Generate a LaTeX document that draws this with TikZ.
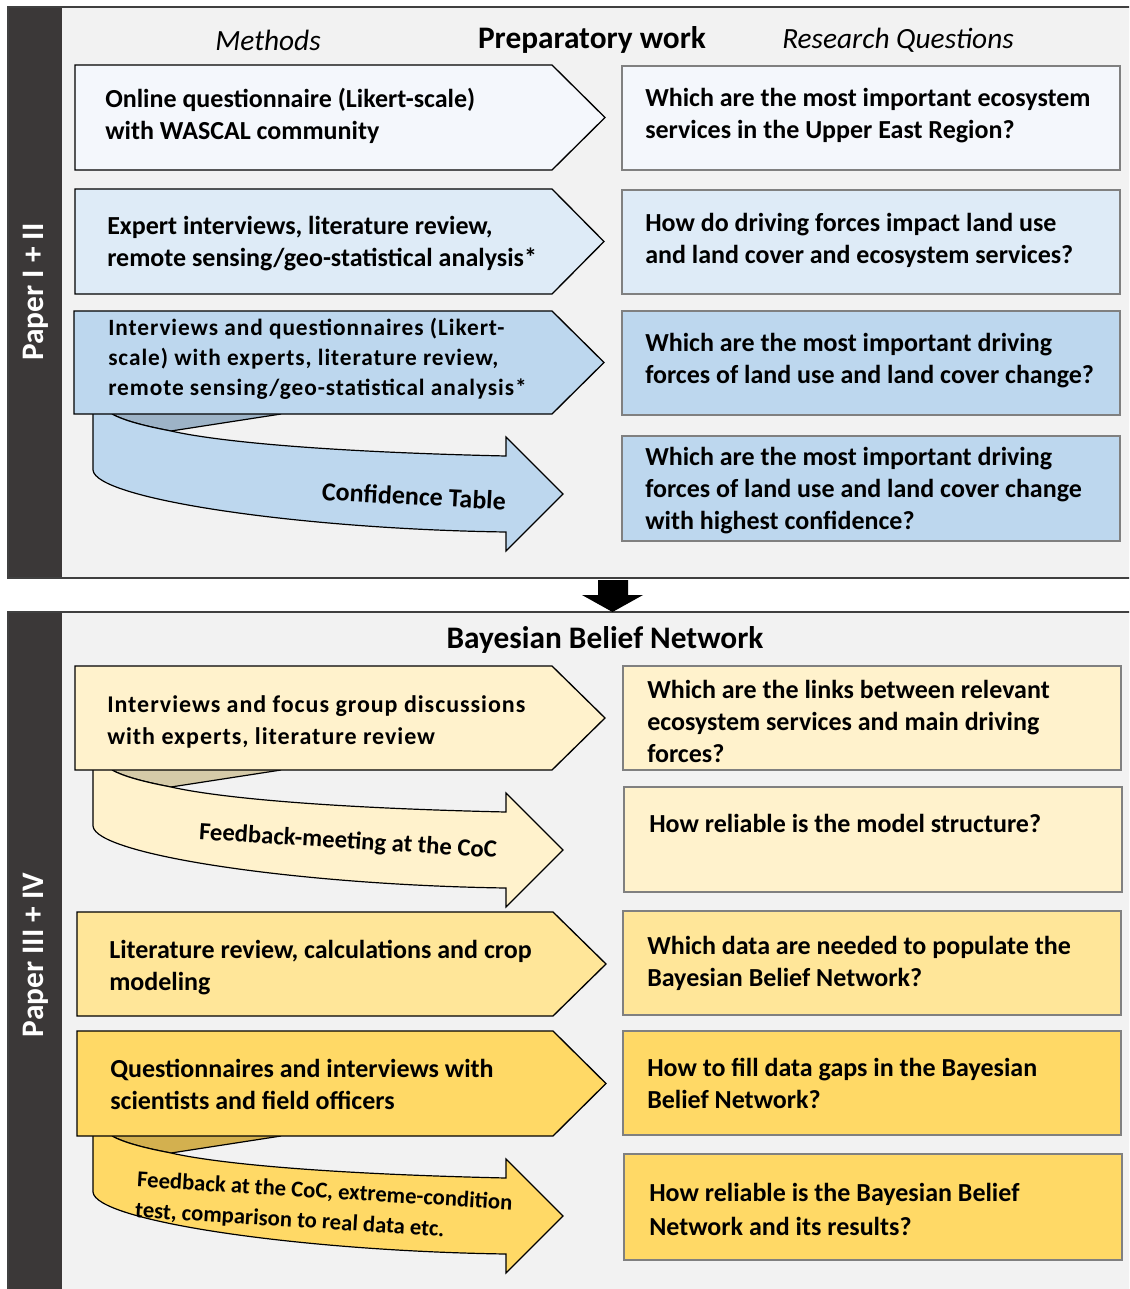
\documentclass[tikz,border=0pt]{standalone}
\usepackage{fontspec}
\setmainfont{Carlito}
\newfontfamily\spacedfont[LetterSpace=4]{Carlito}

\definecolor{panelgrey}{HTML}{F2F2F2}
\definecolor{panelline}{HTML}{404040}
\definecolor{sidegrey}{HTML}{3B3838}
\definecolor{qline}{HTML}{808080}
\definecolor{blueA}{HTML}{F4F7FC}
\definecolor{blueB}{HTML}{DEEBF7}
\definecolor{blueC}{HTML}{BDD7EE}
\definecolor{blueBack}{HTML}{9DB3C7}
\definecolor{yelA}{HTML}{FFF2CC}
\definecolor{yelABack}{HTML}{D5CAA8}
\definecolor{yelB}{HTML}{FFE699}
\definecolor{yelC}{HTML}{FFD966}
\definecolor{yelCBack}{HTML}{D3B04F}

% curved feedback ribbon hanging below a method arrow
% #1 = y of the arrow's lower edge, #2 = front colour, #3 = back colour
\newcommand{\ribbon}[3]{%
  \begin{scope}[shift={(0,#1)}]
    \filldraw[fill=#3, draw=black, line width=0.9pt, line join=round]
      (112,0) .. controls (125,7) and (145,12) .. (171,17) -- (281,0);
    \filldraw[fill=#2, draw=black, line width=0.9pt, line join=miter]
      (112,0) .. controls (125,7) and (145,12) .. (171,17)
      .. controls (220,28) and (330,38) .. (506,42)
      -- (506,23) -- (563,80) -- (506,137) -- (506,118)
      .. controls (300,115) and (95,85) .. (93,56) -- (93,0);
  \end{scope}}

\begin{document}
\begin{tikzpicture}[x=0.75pt,y=-0.75pt,
  panel/.style={fill=panelgrey, draw=panelline, line width=1.3pt},
  sidebar/.style={fill=sidegrey},
  method/.style={draw=black, line width=1pt, line join=miter},
  question/.style={draw=qline, line width=1pt},
  txt/.style={anchor=west, align=left, inner sep=0pt,
    font=\bfseries\fontsize{19.5}{24}\selectfont},
  smalltxt/.style={anchor=west, align=left, inner sep=0pt,
    font=\spacedfont\bfseries\fontsize{17.5}{22.5}\selectfont},
  head/.style={inner sep=0pt, font=\fontsize{23.5}{28}\selectfont},
  side/.style={inner sep=0pt, text=white, rotate=90,
    font=\bfseries\fontsize{23.5}{28}\selectfont}]

\clip (0,0) rectangle (1129,1289);
\fill[white] (0,0) rectangle (1129,1289);

% ---------- panels ----------
\draw[panel] (8,7) rectangle (1140,578);
\fill[sidebar] (9,8) rectangle (62,577);
\draw[panel] (8,612) rectangle (1140,1300);
\fill[sidebar] (9,613) rectangle (62,1300);

\node[side] (p12) at (36,292) {Paper I + II};
\node[side] (p34) at (36,955) {Paper III + IV};

% transition arrow between the two panels
\fill[black] (598,580) -- (628,580) -- (628,595) -- (643,595) -- (612.5,612)
  -- (582,595) -- (598,595) -- cycle;

% ---------- headings ----------
\node[head, font=\itshape\fontsize{22}{26}\selectfont] (hm) at (268,40) {Methods};
\node[head, font=\bfseries\fontsize{23.5}{28}\selectfont] (hp) at (592,40) {Preparatory work};
\node[head, font=\itshape\fontsize{22}{26}\selectfont] (hr) at (898,40) {Research Questions};
\node[head, font=\bfseries\fontsize{23.5}{28}\selectfont] (hb) at (605,640) {Bayesian Belief Network};

% ---------- feedback ribbons ----------
\ribbon{414}{blueC}{blueBack}
\ribbon{770}{yelA}{yelABack}
\ribbon{1136}{yelC}{yelCBack}

% ---------- method arrows ----------
\filldraw[method, fill=blueA] (75,65) -- (552,65) -- (605,117.5) -- (552,170) -- (75,170) -- cycle;
\filldraw[method, fill=blueB] (75,189) -- (552,189) -- (604,241.5) -- (552,294) -- (75,294) -- cycle;
\filldraw[method, fill=blueC] (74,311) -- (552,311) -- (604,362.5) -- (552,414) -- (74,414) -- cycle;
\filldraw[method, fill=yelA] (75,666) -- (552,666) -- (605,718) -- (552,770) -- (75,770) -- cycle;
\filldraw[method, fill=yelB] (77,912) -- (553,912) -- (606,964) -- (553,1016) -- (77,1016) -- cycle;
\filldraw[method, fill=yelC] (77,1031) -- (553,1031) -- (606,1083.5) -- (553,1136) -- (77,1136) -- cycle;

% ---------- question boxes ----------
\filldraw[question, fill=blueA] (622,66) rectangle (1120,170);
\filldraw[question, fill=blueB] (622,190) rectangle (1120,294);
\filldraw[question, fill=blueC] (622,311) rectangle (1120,415);
\filldraw[question, fill=blueC] (622,436) rectangle (1120,541);
\filldraw[question, fill=yelA] (623,666) rectangle (1121,770);
\filldraw[question, fill=yelA] (624,787) rectangle (1122,892);
\filldraw[question, fill=yelB] (623,911) rectangle (1121,1015);
\filldraw[question, fill=yelC] (623,1031) rectangle (1121,1135);
\filldraw[question, fill=yelC] (624,1154) rectangle (1122,1260);

% ---------- method texts ----------
\node[txt] (m1) at (105,116) {Online questionnaire (Likert-scale)\\with WASCAL community};
\node[txt] (m2) at (107,244) {Expert interviews, literature review,\\remote sensing/geo-statistical analysis*};
\node[smalltxt] (m3) at (108,359) {Interviews and questionnaires (Likert-\\scale) with experts, literature review,\\remote sensing/geo-statistical analysis*};
\node[smalltxt, font=\spacedfont\bfseries\fontsize{18}{24}\selectfont] (m5) at (107,722) {Interviews and focus group discussions\\with experts, literature review};
\node[txt] (m7) at (109,968) {Literature review, calculations and crop\\modeling};
\node[txt] (m8) at (110,1084) {Questionnaires and interviews with\\scientists and field officers};

% ---------- ribbon labels ----------
\node[inner sep=0pt, rotate=-3, font=\bfseries\fontsize{19.5}{24}\selectfont] (c1) at (414,496) {Confidence Table};
\node[inner sep=0pt, rotate=-3.5, font=\bfseries\fontsize{18.5}{24}\selectfont] (c2) at (348,842) {Feedback-meeting at the CoC};
\node[inner sep=0pt, anchor=west, align=left, rotate=-3.5, font=\bfseries\fontsize{17}{23}\selectfont] (c3) at (136,1196) {Feedback at the CoC, extreme-condition\\test, comparison to real data etc.};

% ---------- question texts ----------
\node[txt] (q1) at (645,116) {Which are the most important ecosystem\\services in the Upper East Region?};
\node[txt] (q2) at (645,240) {How do driving forces impact land use\\and land cover and ecosystem services?};
\node[txt] (q3) at (645,361) {Which are the most important driving\\forces of land use and land cover change?};
\node[txt] (q4) at (645,491) {Which are the most important driving\\forces of land use and land cover change\\with highest confidence?};
\node[txt] (q5) at (647,721) {Which are the links between relevant\\ecosystem services and main driving\\forces?};
\node[txt] (q6) at (649,823) {How reliable is the model structure?};
\node[txt] (q7) at (647,963) {Which data are needed to populate the\\Bayesian Belief Network?};
\node[txt] (q8) at (647,1083) {How to fill data gaps in the Bayesian\\Belief Network?};
\node[txt, font=\bfseries\fontsize{19.5}{25.5}\selectfont] (q9) at (649,1209) {How reliable is the Bayesian Belief\\Network and its results?};

\end{tikzpicture}
\end{document}
